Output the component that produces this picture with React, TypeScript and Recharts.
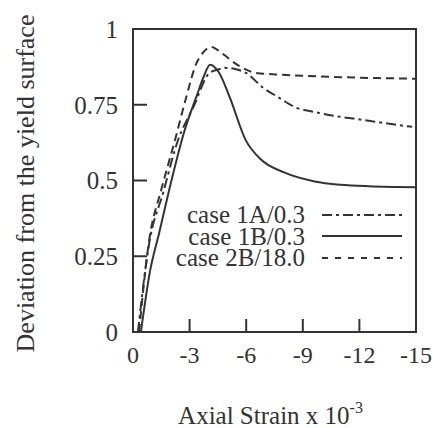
import React from 'react';
import { LineChart, Line, XAxis, YAxis, ReferenceArea, Legend } from 'recharts';

const ticksX = [0, -3, -6, -9, -12, -15];
const ticksY = [0, 0.25, 0.5, 0.75, 1];
const markedX = [-3, -6, -9, -12];
const markedY = [0.25, 0.5, 0.75];

const strain1A = [-0.26, -0.85, -1.6, -2.38, -3.2, -4.05, -4.5, -4.83, -5.4, -5.99, -6.9, -7.75, -8.66, -9.56, -10.8, -12.2, -13.5, -14.8];
const dev1A = [0, 0.29, 0.46, 0.632, 0.742, 0.855, 0.866, 0.872, 0.868, 0.855, 0.806, 0.773, 0.74, 0.727, 0.712, 0.7, 0.688, 0.677];

const strain1B = [-0.42, -0.9, -1.4, -2.0, -2.73, -3.38, -3.73, -4.09, -4.57, -5.12, -5.96, -6.77, -8.04, -9.63, -11, -12.5, -15];
const dev1B = [0, 0.2, 0.33, 0.49, 0.664, 0.78, 0.84, 0.882, 0.855, 0.776, 0.635, 0.57, 0.526, 0.497, 0.486, 0.481, 0.478];

const strain2B = [-0.32, -0.85, -1.5, -2.22, -2.8, -3.35, -3.75, -4.12, -4.76, -5.45, -6.52, -7.94, -9.31, -11, -13, -15];
const dev2B = [0, 0.3, 0.47, 0.632, 0.77, 0.885, 0.925, 0.941, 0.918, 0.885, 0.855, 0.849, 0.845, 0.841, 0.838, 0.836];

const seriesNames = ['case 1A/0.3', 'case 1B/0.3', 'case 2B/18.0'];
const lineDashes = ['10 4 3 4', undefined, '8 5'];
const legendDashes = ['10 4 3 4', undefined, '6 7'];

const toPoints = (xs: number[], ys: number[]) => xs.map((x, i) => ({ x, y: ys[i] }));
const seriesData = [toPoints(strain1A, dev1A), toPoints(strain1B, dev1B), toPoints(strain2B, dev2B)];

const INK = '#333';
const FONT = '"Liberation Serif", "Times New Roman", serif';

const XTick = (props: any) => {
  const { x, y, payload } = props;
  const v = payload.value;
  return (
    <g>
      {markedX.includes(v) && <line x1={x} x2={x} y1={y} y2={y - 13} stroke={INK} strokeWidth={2} />}
      <text x={x} y={y + 31} textAnchor="middle" fontSize={24} fontFamily={FONT} fill={INK}>
        {String(v)}
      </text>
    </g>
  );
};

const YTick = (props: any) => {
  const { x, y, payload } = props;
  const v = payload.value;
  return (
    <g>
      {markedY.includes(v) && <line x1={x} x2={x + 14} y1={y} y2={y} stroke={INK} strokeWidth={2} />}
      <text x={x - 15} y={y} dy="0.35em" textAnchor="end" fontSize={25} fontFamily={FONT} fill={INK}>
        {String(v)}
      </text>
    </g>
  );
};

const LegendContent = () => (
  <div style={{ fontFamily: FONT, fontSize: 25, color: INK }}>
    {seriesNames.map((name, i) => (
      <div key={name} style={{ display: 'flex', alignItems: 'center', height: 21.5 }}>
        <span style={{ width: 140, textAlign: 'right', lineHeight: '21.5px', whiteSpace: 'nowrap' }}>{name}</span>
        <svg width={82} height={6} style={{ marginLeft: 17 }}>
          <line x1={0} x2={80} y1={3} y2={3} stroke={INK} strokeWidth={2} strokeDasharray={legendDashes[i]} />
        </svg>
      </div>
    ))}
  </div>
);

export default function App() {
  return (
    <div style={{ position: 'absolute', left: 0, top: 0, background: '#fff' }}>
      <LineChart width={433} height={428} margin={{ top: 29, right: 17, bottom: 0, left: 0 }}>
        <XAxis
          dataKey="x"
          type="number"
          domain={[-15, 0]}
          reversed
          ticks={ticksX}
          interval={0}
          tickSize={0}
          tickMargin={0}
          tickLine={false}
          axisLine={false}
          height={96}
          tick={<XTick />}
          allowDataOverflow
          label={{
            content: (p: any) => {
              const vb = p.viewBox;
              return (
                <text x={vb.x + vb.width / 2 - 4} y={vb.y + 92} textAnchor="middle" fontSize={25} fontFamily={FONT} fill={INK}>
                  Axial Strain x 10
                  <tspan dy={-11} fontSize={16}>-3</tspan>
                </text>
              );
            },
          }}
        />
        <YAxis
          type="number"
          domain={[0, 1]}
          ticks={ticksY}
          interval={0}
          tickSize={0}
          tickMargin={0}
          tickLine={false}
          axisLine={false}
          width={133}
          tick={<YTick />}
          allowDataOverflow
          label={{
            content: (p: any) => {
              const vb = p.viewBox;
              const cy = vb.y + vb.height / 2 + 3;
              return (
                <text
                  transform={`translate(25, ${cy}) rotate(-90)`}
                  textAnchor="middle"
                  dominantBaseline="central"
                  fontSize={26}
                  fontFamily={FONT}
                  fill={INK}
                >
                  Deviation from the yield surface
                </text>
              );
            },
          }}
        />
        <ReferenceArea x1={-15} x2={0} y1={0} y2={1} fill="none" stroke={INK} strokeWidth={2} ifOverflow="visible" />
        {seriesData.map((d, i) => (
          <Line
            key={seriesNames[i]}
            data={d}
            dataKey="y"
            name={seriesNames[i]}
            type="monotone"
            stroke={INK}
            strokeWidth={2}
            strokeDasharray={lineDashes[i]}
            dot={false}
            isAnimationActive={false}
          />
        ))}
        <Legend
          layout="horizontal"
          verticalAlign="middle"
          align="center"
          wrapperStyle={{ position: 'absolute', left: 165, top: 204, width: 250 }}
          content={<LegendContent />}
        />
      </LineChart>
    </div>
  );
}
